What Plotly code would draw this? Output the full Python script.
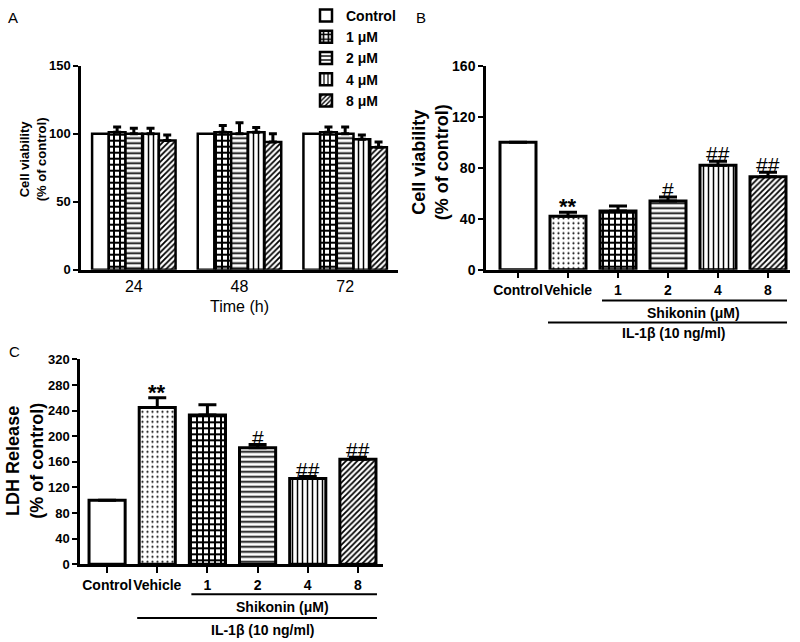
import plotly.graph_objects as go

# panel A: viability over time for each shikonin dose
time_points = ["24", "48", "72"]
dose_names = ["Control", "1 μM", "2 μM", "4 μM", "8 μM"]
viab_a = [
    [100, 100, 100],
    [101, 101, 101],
    [100, 100, 100],
    [100, 101, 96],
    [95, 94, 90],
]
err_a = [
    [0, 0, 0],
    [4, 5, 4],
    [4, 8, 5],
    [4, 3.5, 3],
    [4, 6, 4],
]

# panels B and C: IL-1β treated groups
groups = ["Control", "Vehicle", "1", "2", "4", "8"]
viab_b = [100, 42, 46, 54, 82, 73]
err_b = [0, 3, 4, 3, 3, 3.5]
sig_b = ["", "**", "", "#", "##", "##"]
ldh_c = [100, 245, 233, 182, 134, 164]
err_c = [0, 15, 16, 5, 3, 3]
sig_c = ["", "**", "", "#", "##", "##"]

W, H = 800, 642
FONT = "Liberation Sans, Arial, sans-serif"


def px(x):
    return x / W


def py(y):
    return 1 - y / H


# pattern per dose (control, 1, 2, 4, 8 uM)
dose_pat = [
    dict(shape="", size=6, solidity=0.3),
    dict(shape="+", size=6, solidity=0.55),
    dict(shape="-", size=5, solidity=0.35),
    dict(shape="|", size=5, solidity=0.3),
    dict(shape="/", size=4, solidity=0.45),
]
vehicle_pat = dict(shape=".", size=5, solidity=0.15)
group_pat = [dose_pat[0], vehicle_pat] + dose_pat[1:]


def pat(p):
    return dict(shape=p["shape"], size=p["size"], solidity=p["solidity"],
                fgcolor="black", bgcolor="white", fillmode="replace")


def group_pattern():
    return dict(
        shape=[p["shape"] for p in group_pat],
        size=[p["size"] for p in group_pat],
        solidity=[p["solidity"] for p in group_pat],
        fgcolor="black", bgcolor="white", fillmode="replace",
    )


fig = go.Figure()

for i, name in enumerate(dose_names):
    fig.add_bar(
        x=time_points, y=viab_a[i], name=name,
        marker=dict(color="white", line=dict(color="black", width=2.5), pattern=pat(dose_pat[i])),
        error_y=dict(type="data", array=err_a[i], arrayminus=[0] * 3, symmetric=False,
                     color="black", thickness=3, width=4, visible=any(err_a[i])),
        xaxis="x", yaxis="y",
    )

xs = list(range(len(groups)))
fig.add_bar(
    x=xs, y=viab_b, width=0.72, showlegend=False,
    marker=dict(color="white", line=dict(color="black", width=3), pattern=group_pattern()),
    error_y=dict(type="data", array=err_b, arrayminus=[0] * 6, symmetric=False,
                 color="black", thickness=3, width=9),
    xaxis="x2", yaxis="y2",
)
fig.add_bar(
    x=xs, y=ldh_c, width=0.72, showlegend=False,
    marker=dict(color="white", line=dict(color="black", width=3), pattern=group_pattern()),
    error_y=dict(type="data", array=err_c, arrayminus=[0] * 6, symmetric=False,
                 color="black", thickness=3, width=9),
    xaxis="x3", yaxis="y3",
)

axis_common = dict(showline=True, linecolor="black", linewidth=2.5, showgrid=False,
                   zeroline=False, ticks="outside", tickcolor="black", tickwidth=2,
                   automargin=False)

fig.update_layout(
    template="none",
    width=W, height=H, margin=dict(l=0, r=0, t=0, b=0, pad=0),
    paper_bgcolor="white", plot_bgcolor="white",
    font=dict(family=FONT, color="black"),
    barmode="group", bargap=0.21, bargroupgap=0,
    xaxis=dict(axis_common, type="category", domain=[px(81), px(398)], anchor="y",
               range=[-0.5, 2.5], ticks="", tickfont=dict(size=16),
               title=dict(text="Time (h)", font=dict(size=16), standoff=8)),
    yaxis=dict(axis_common, domain=[py(268), py(63)], anchor="x", range=[0, 150],
               tickvals=[0, 50, 100, 150], ticklen=5, tickfont=dict(size=13, weight="bold")),
    xaxis2=dict(axis_common, domain=[px(486), px(790)], anchor="y2", range=[-0.64, 5.44],
                tickvals=xs, ticktext=groups, ticklen=6, tickangle=0,
                tickfont=dict(size=14, weight="bold")),
    yaxis2=dict(axis_common, domain=[py(268), py(63)], anchor="x2", range=[0, 160],
                tickvals=[0, 40, 80, 120, 160], ticklen=5, tickfont=dict(size=14, weight="bold")),
    xaxis3=dict(axis_common, domain=[px(80), px(383)], anchor="y3", range=[-0.54, 5.5],
                tickvals=xs, ticktext=groups, ticklen=6, tickangle=0,
                tickfont=dict(size=14, weight="bold")),
    yaxis3=dict(axis_common, domain=[py(564), py(358)], anchor="x3", range=[0, 320],
                dtick=40, ticklen=5, tickfont=dict(size=13, weight="bold")),
    legend=dict(x=px(306), y=py(-3), xanchor="left", yanchor="top", bgcolor="rgba(0,0,0,0)",
                font=dict(size=14, weight="bold"), tracegroupgap=0, itemwidth=30),
)

# y-axis titles, placed by hand to sit close to the tick labels
for text, x, y, size in (("Cell viability<br>(% of control)", 33, 157, 13),
                         ("Cell viability<br>(% of control)", 430, 160, 18),
                         ("LDH Release<br>(% of control)", 25, 460, 18)):
    fig.add_annotation(x=px(x), y=py(y), xref="paper", yref="paper", text=text, textangle=-90,
                       showarrow=False, xanchor="center", yanchor="middle",
                       font=dict(size=size, weight="bold"))

# significance marks
for ax, vals, errs, sig in (("2", viab_b, err_b, sig_b), ("3", ldh_c, err_c, sig_c)):
    for i, s in enumerate(sig):
        if not s:
            continue
        star = s.startswith("*")
        fig.add_annotation(x=i, y=vals[i] + errs[i], xref="x" + ax, yref="y" + ax,
                           text=s, showarrow=False, yanchor="bottom",
                           yshift=-9 if star else -6,
                           font=dict(size=22 if star else 21, family=FONT,
                                     weight="bold" if star else "normal"))

# panel letters
for letter, x, y in (("A", 13, 15), ("B", 421, 15), ("C", 14, 350)):
    fig.add_annotation(x=px(x), y=py(y), xref="paper", yref="paper", text=letter,
                       showarrow=False, font=dict(size=15), xanchor="center", yanchor="middle")

# treatment brackets under B and C
for ax, y_shi, y_il, y_shi_t, y_il_t in (("x2", 299, 321, 311, 332), ("x3", 594, 618, 607, 630)):
    fig.add_shape(type="line", xref=ax, yref="paper", x0=1.68, x1=5.38, y0=py(y_shi), y1=py(y_shi),
                  line=dict(color="black", width=2))
    fig.add_shape(type="line", xref=ax, yref="paper", x0=0.6, x1=5.38, y0=py(y_il), y1=py(y_il),
                  line=dict(color="black", width=2))
    fig.add_annotation(x=3.5, y=py(y_shi_t), xref=ax, yref="paper", text="Shikonin (μM)",
                       showarrow=False, font=dict(size=14, weight="bold"), yanchor="middle")
    fig.add_annotation(x=3.1, y=py(y_il_t), xref=ax, yref="paper", text="IL-1β (10 ng/ml)",
                       showarrow=False, font=dict(size=14, weight="bold"), yanchor="middle")

fig.write_html("out.html", config={"displayModeBar": False},
               post_script="document.body.style.margin='0';")
